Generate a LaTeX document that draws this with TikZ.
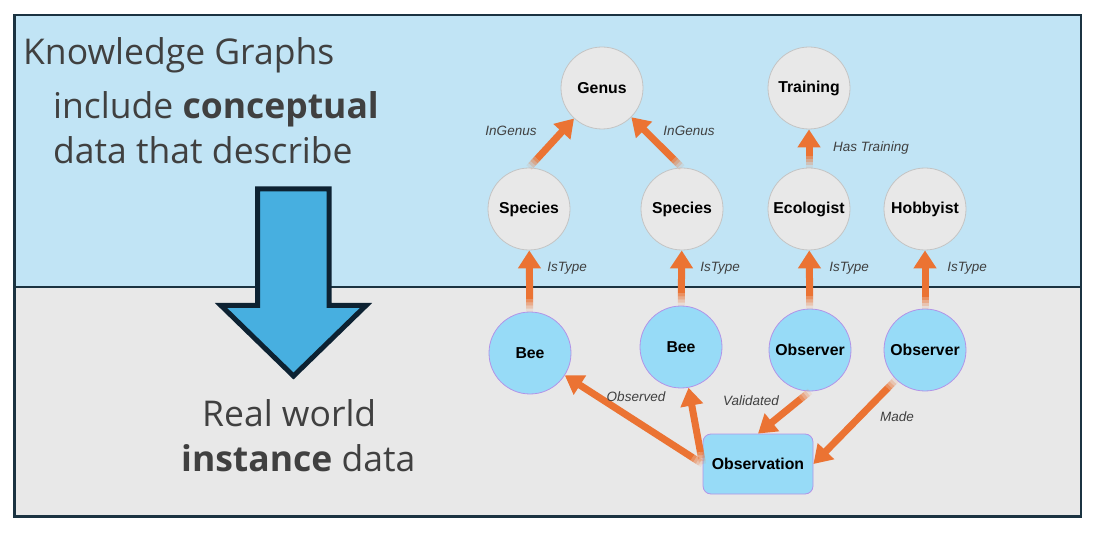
\documentclass[tikz,border=0pt]{standalone}
\usepackage{fontspec}
\setmainfont{Open Sans}
\newfontfamily\gfont{Liberation Sans}
\usetikzlibrary{arrows.meta,calc}
\definecolor{topbg}{HTML}{C1E4F5}
\definecolor{botbg}{HTML}{E8E8E8}
\definecolor{framec}{HTML}{1B3341}
\definecolor{bigfill}{HTML}{47AFE0}
\definecolor{bigline}{HTML}{0D2232}
\definecolor{txt}{HTML}{404040}
\definecolor{orng}{HTML}{EB7333}
\definecolor{cfill}{HTML}{E8E8E8}
\definecolor{cline}{HTML}{C4C4C4}
\definecolor{ifill}{HTML}{97DBF7}
\definecolor{iline}{HTML}{B294E8}
\definecolor{lbl}{HTML}{404040}
\tikzset{
  concept/.style={circle, minimum size=82pt, inner sep=0pt, fill=cfill, draw=cline, line width=0.8pt,
    font=\gfont\bfseries\fontsize{15.8}{18}\selectfont, text=black},
  instance/.style={concept, fill=ifill, draw=iline},
  elabel/.style={font=\gfont\itshape\fontsize{13.5}{16}\selectfont, text=lbl, inner sep=0pt},
  bigtext/.style={anchor=base west, inner sep=0pt, text=txt, font=\fontsize{35.5}{40}\selectfont},
  rel/.style={draw=orng, line width=7pt, -{Triangle[width=22pt,length=18pt]}},
  relfade/.style={draw=orng, line width=7pt}
}
% #1 start, #2 end (named coordinates)
\newcommand{\relarrow}[2]{%
  \draw[rel] ($(#1)!12pt!(#2)$) -- (#2);
  \foreach \op/\da/\db in {0.1/0/3,0.3/3/6,0.52/6/9,0.75/9/12}{
    \draw[relfade, draw opacity=\op] ($(#1)!\da pt!(#2)$) -- ($(#1)!\db pt!(#2)$);
  }%
}
\begin{document}
\begin{tikzpicture}[x=1pt,y=-1pt]
\useasboundingbox (0,0) rectangle (1095,537);
\fill[white] (0,0) rectangle (1095,537);
% panels
\fill[topbg] (14.5,15) rectangle (1081,287);
\fill[botbg] (14.5,287) rectangle (1081,516.5);
\draw[framec, line width=2.2pt] (14.5,287) -- (1081,287);
\draw[framec, line width=2.5pt] (14.5,15) rectangle (1081,516.5);
% big arrow
\draw[bigline, fill=bigfill, line width=5pt, line join=miter, miter limit=10]
  (257.5,189) -- (329,189) -- (329,305.5) -- (366,305.5) -- (293.5,376) -- (221,305.5) -- (257.5,305.5) -- cycle;
% texts
\node[bigtext] (kg) at (23,65) {Knowledge Graphs};
\node[bigtext] (l2) at (53,118.3) {include \textbf{conceptual}};
\node[bigtext] (l3) at (53,163.3) {data that describe};
\node[bigtext] (l4) at (202,426.7) {Real world};
\node[bigtext] (l5) at (181,471.7) {\textbf{instance} data};
% graph nodes
\node[concept] (genus) at (602,88) {Genus};
\node[concept] (training) at (809,88) {Training};
\node[concept] (sp1) at (529,209) {Species};
\node[concept] (sp2) at (682,209) {Species};
\node[concept] (eco) at (809,209) {Ecologist};
\node[concept] (hob) at (925,209) {Hobbyist};
\node[instance] (bee1) at (530,353) {Bee};
\node[instance] (bee2) at (681,347) {Bee};
\node[instance] (obs1) at (810,350) {Observer};
\node[instance] (obs2) at (925,350) {Observer};
\node[instance, rectangle, rounded corners=8pt, minimum width=110pt, minimum height=60pt] (obsn) at (758,464) {Observation};
% connector geometry
\path (sp1.north) -- (genus) coordinate[pos=0] (s1) coordinate[pos=1] (e1);
\path (sp2.north) -- (genus) coordinate[pos=0] (s2) coordinate[pos=1] (e2);
\path (eco) -- (training) coordinate[pos=0] (s3) coordinate[pos=1] (e3);
\path (bee1) -- (sp1) coordinate[pos=0] (s4) coordinate[pos=1] (e4);
\path (bee2) -- (sp2) coordinate[pos=0] (s5) coordinate[pos=1] (e5);
\path (obs1) -- (eco) coordinate[pos=0] (s6) coordinate[pos=1] (e6);
\path (obs2) -- (hob) coordinate[pos=0] (s7) coordinate[pos=1] (e7);
\path (obsn.west) -- (bee1) coordinate[pos=0] (s8) coordinate[pos=1] (e8);
\path (obsn.west) -- (bee2) coordinate[pos=0] (s9) coordinate[pos=1] (e9);
\path (obs1.south) -- (obsn.north) coordinate[pos=0] (s10) coordinate[pos=1] (e10);
\path (obs2) -- (obsn.east) coordinate[pos=0] (s11) coordinate[pos=1] (e11);
\relarrow{s1}{e1}
\relarrow{s2}{e2}
\relarrow{s3}{e3}
\relarrow{s4}{e4}
\relarrow{s5}{e5}
\relarrow{s6}{e6}
\relarrow{s7}{e7}
\relarrow{s8}{e8}
\relarrow{s9}{e9}
\relarrow{s10}{e10}
\relarrow{s11}{e11}
% edge labels
\node[elabel] (t1) at (511,131) {InGenus};
\node[elabel] (t2) at (689,131) {InGenus};
\node[elabel] (t3) at (871,148) {Has Training};
\node[elabel] (t4) at (567,268) {IsType};
\node[elabel] (t5) at (720,268) {IsType};
\node[elabel] (t6) at (849,268) {IsType};
\node[elabel] (t7) at (967,268) {IsType};
\node[elabel] (t8) at (636,397) {Observed};
\node[elabel] (t9) at (751,401) {Validated};
\node[elabel] (t10) at (897,417) {Made};
\end{tikzpicture}
\end{document}
